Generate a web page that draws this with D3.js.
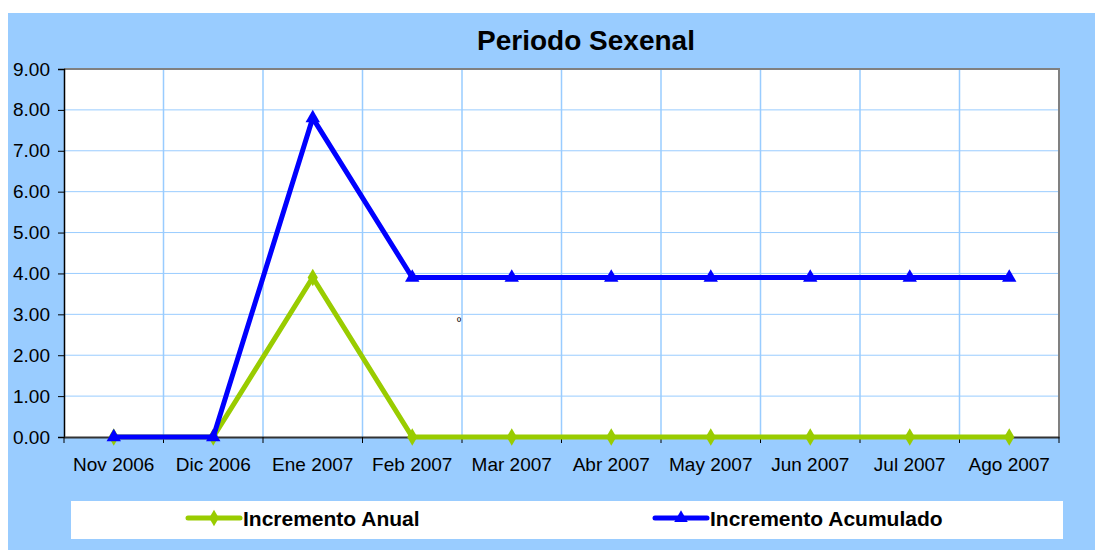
<!DOCTYPE html>
<html>
<head>
<meta charset="utf-8">
<script src="https://cdn.jsdelivr.net/npm/d3@7"></script>
<style>
  body { margin: 0; background: #fff; }
  text { font-family: Arial, "Liberation Sans", sans-serif; }
</style>
</head>
<body>
<div id="body"></div>
<script>
// data
let categories = ["Nov 2006", "Dic 2006", "Ene 2007", "Feb 2007", "Mar 2007", "Abr 2007",
  "May 2007", "Jun 2007", "Jul 2007", "Ago 2007"]
let anual = [0, 0, 3.9, 0, 0, 0, 0, 0, 0, 0]
let acumulado = [0, 0, 7.8, 3.9, 3.9, 3.9, 3.9, 3.9, 3.9, 3.9]
let yTicks = [0, 1, 2, 3, 4, 5, 6, 7, 8, 9]

let W = 1095, H = 550
let margin = { top: 69, right: 36, bottom: 113, left: 64 },
  width = W - margin.left - margin.right,
  height = H - margin.top - margin.bottom

let root = d3.select("#body").append("svg")
  .attr("width", W)
  .attr("height", H)

// background panel
root.append("rect")
  .attr("x", 8).attr("y", 13)
  .attr("width", W - 8).attr("height", H - 13)
  .attr("fill", "#99CCFF")

root.append("text")
  .attr("x", 586).attr("y", 50)
  .attr("text-anchor", "middle")
  .style("font-size", "28px")
  .style("font-weight", "bold")
  .text("Periodo Sexenal")

let svg = root.append("g")
  .attr("transform", "translate(" + margin.left + "," + margin.top + ")")

let x = d3.scaleBand().domain(categories).range([0, width])
let y = d3.scaleLinear().domain([0, 9]).range([height, 0])

svg.append("rect")
  .attr("width", width).attr("height", height)
  .attr("fill", "#fff")

// grid
svg.append("g").selectAll("line.h")
  .data(yTicks.slice(1, -1))
  .enter().append("line")
  .attr("x1", 0).attr("x2", width)
  .attr("y1", d => y(d)).attr("y2", d => y(d))
  .attr("stroke", "#99CCFF").attr("stroke-width", 1)

svg.append("g").selectAll("line.v")
  .data(categories.slice(1))
  .enter().append("line")
  .attr("x1", d => x(d)).attr("x2", d => x(d))
  .attr("y1", 0).attr("y2", height)
  .attr("stroke", "#99CCFF").attr("stroke-width", 1.5)

// top and right border
svg.append("path")
  .attr("d", "M0,0H" + width + "V" + height)
  .attr("fill", "none")
  .attr("stroke", "#808080")
  .attr("stroke-width", 2)

// y axis
let yAxis = svg.append("g")
  .call(d3.axisLeft(y).tickValues(yTicks).tickFormat(d3.format(".2f")).tickSize(6).tickPadding(8))
yAxis.select(".domain").attr("stroke", "#000").attr("stroke-width", 1.5)
yAxis.selectAll(".tick line").attr("stroke", "#000")
yAxis.selectAll("text").style("font-size", "19px").attr("fill", "#000")

// x axis
let xAxis = svg.append("g")
  .attr("transform", "translate(0," + height + ")")
  .call(d3.axisBottom(x).tickSize(0).tickPadding(21))
xAxis.select(".domain").attr("stroke", "#333").attr("stroke-width", 2)
xAxis.selectAll("text").style("font-size", "19px").attr("fill", "#000")

svg.append("g").selectAll("line")
  .data(categories.concat(["end"]))
  .enter().append("line")
  .attr("x1", (d, i) => i * x.bandwidth()).attr("x2", (d, i) => i * x.bandwidth())
  .attr("y1", height).attr("y2", height + 6)
  .attr("stroke", "#000")

let cx = d => x(d) + x.bandwidth() / 2

function drawSeries(values, color, symbol) {
  svg.append("path")
    .datum(values)
    .attr("d", d3.line()
      .x((d, i) => cx(categories[i]))
      .y(d => y(d)))
    .attr("fill", "none")
    .attr("stroke", color)
    .attr("stroke-width", 5)
    .attr("stroke-linejoin", "miter")

  svg.append("g").selectAll("path")
    .data(values)
    .enter().append("path")
    .attr("d", d3.symbol().type(symbol).size(90))
    .attr("transform", (d, i) => "translate(" + cx(categories[i]) + "," + y(d) + ")")
    .attr("fill", color)
}

drawSeries(anual, "#99CC00", d3.symbolDiamond)
drawSeries(acumulado, "#0000FF", d3.symbolTriangle)

// small stray mark
root.append("text")
  .attr("x", 459).attr("y", 325)
  .attr("text-anchor", "middle")
  .style("font-size", "11px")
  .text("º")

// legend
root.append("rect")
  .attr("x", 71).attr("y", 501)
  .attr("width", 992).attr("height", 38)
  .attr("fill", "#fff")

let legend = [
  { name: "Incremento Anual", color: "#99CC00", symbol: d3.symbolDiamond, x: 188 },
  { name: "Incremento Acumulado", color: "#0000FF", symbol: d3.symbolTriangle, x: 655 }
]
let lg = root.append("g").selectAll("g")
  .data(legend)
  .enter().append("g")
  .attr("transform", d => "translate(" + d.x + ",518)")
lg.append("line")
  .attr("x1", 0).attr("x2", 52)
  .attr("stroke", d => d.color)
  .attr("stroke-width", 5)
  .attr("stroke-linecap", "round")
lg.append("path")
  .attr("d", d => d3.symbol().type(d.symbol).size(80)())
  .attr("transform", "translate(26,0)")
  .attr("fill", d => d.color)
lg.append("text")
  .attr("x", 55).attr("y", 8)
  .style("font-size", "21px")
  .style("font-weight", "bold")
  .text(d => d.name)
</script>
</body>
</html>
